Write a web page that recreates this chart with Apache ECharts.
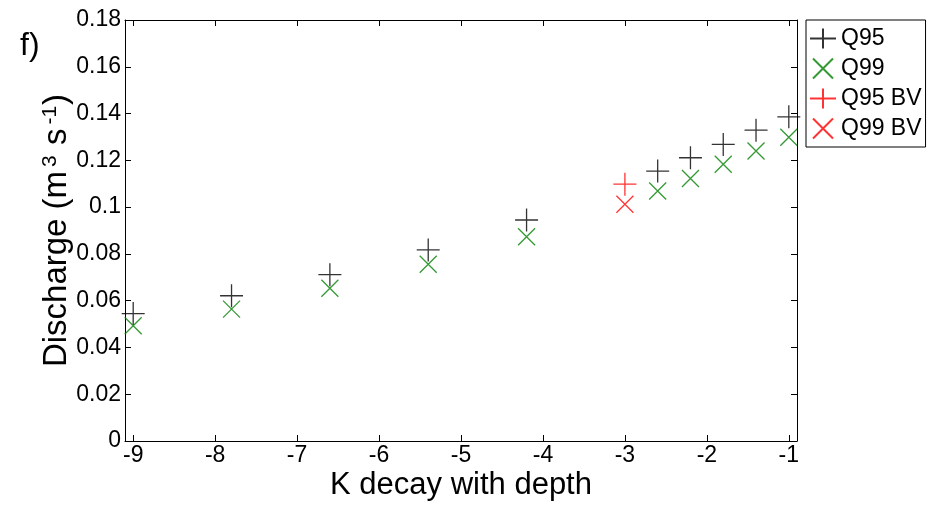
<!DOCTYPE html>
<html>
<head>
<meta charset="utf-8">
<script src="https://cdn.jsdelivr.net/npm/echarts@6/dist/echarts.min.js"></script>
<style>
html,body{margin:0;padding:0;background:#fff;}
#chart{width:937px;height:506px;}
</style>
</head>
<body>
<div id="chart"></div>
<script>
// ---- data ----
const kValues = [-9, -7.8, -6.6, -5.4, -4.2, -2.6, -2.2, -1.8, -1.4, -1];
const q95 = [0.0545, 0.0621, 0.0711, 0.0817, 0.0945, 0.1154, 0.1211, 0.1268, 0.1329, 0.1386];
const q99 = [0.0493, 0.0564, 0.0653, 0.0756, 0.0873, 0.1069, 0.1122, 0.1183, 0.1240, 0.1299];
const bvK = [-3];
const q95bv = [0.1098];
const q99bv = [0.1012];
const xTicks = [-9, -8, -7, -6, -5, -4, -3, -2, -1];
const seriesNames = ['Q95', 'Q99', 'Q95 BV', 'Q99 BV'];

const FONT = "'Liberation Sans', Arial, sans-serif";
const PLUS = 'path://M0,5L10,5M5,0L5,10';
const CROSS = 'path://M0,0L10,10M10,0L0,10';
const PLUS_LEG = 'path://M0,10L26,10M13,0L13,20';

function pairs(xs, ys) { return xs.map((x, i) => [x, ys[i]]); }

function mk(name, xs, ys, sym, size, color) {
  return {
    name: name, type: 'scatter', xAxisIndex: 0, yAxisIndex: 0,
    data: pairs(xs, ys),
    symbol: sym, symbolSize: size,
    itemStyle: { color: 'rgba(0,0,0,0)', borderColor: color, borderWidth: 1.3 },
    emphasis: { disabled: true },
    silent: true
  };
}

const axisCommonX = {
  type: 'value', min: -9.1, max: -0.9,
  splitLine: { show: false },
  axisLine: { show: true, onZero: false, lineStyle: { color: '#000', width: 1 } },
  axisTick: { show: true, inside: true, length: 6, customValues: xTicks, lineStyle: { color: '#000' } }
};
const axisCommonY = {
  type: 'value', min: 0, max: 0.18, interval: 0.02,
  splitLine: { show: false },
  axisLine: { show: true, onZero: false, lineStyle: { color: '#000', width: 1 } },
  axisTick: { show: true, inside: true, length: 6, lineStyle: { color: '#000' } }
};

const option = {
  animation: false,
  backgroundColor: '#fff',
  textStyle: { fontFamily: FONT },
  grid: { left: 125, right: 140, top: 20, bottom: 64, containLabel: false },
  graphic: [{
    type: 'text', left: 20, top: 30,
    style: { text: 'f)', fontSize: 32, fontFamily: FONT, fill: '#000' }
  }],
  legend: {
    data: [
      { name: 'Q95', icon: PLUS_LEG },
      { name: 'Q99', icon: CROSS },
      { name: 'Q95 BV', icon: PLUS_LEG },
      { name: 'Q99 BV', icon: CROSS }
    ],
    orient: 'vertical', left: 806, top: 20,
    padding: [7, 4, 7, 3],
    itemWidth: 26, itemHeight: 20, itemGap: 7,
    borderColor: '#000', borderWidth: 1, backgroundColor: '#fff',
    textStyle: { fontSize: 23, fontFamily: FONT, color: '#000' },
    selectedMode: false
  },
  xAxis: [
    Object.assign({}, axisCommonX, {
      position: 'bottom',
      name: 'K decay with depth', nameLocation: 'middle', nameGap: 29,
      nameMoveOverlap: false,
      nameTextStyle: { fontSize: 31, fontFamily: FONT, color: '#000' },
      axisLabel: { show: true, customValues: xTicks, margin: 3, fontSize: 23, fontFamily: FONT, color: '#000' }
    }),
    Object.assign({}, axisCommonX, {
      position: 'top', axisLabel: { show: false }
    })
  ],
  yAxis: [
    Object.assign({}, axisCommonY, {
      position: 'left',
      name: '{a|Discharge (m}{sup|3}{a| s}{sup|-1}{a|)}',
      nameLocation: 'middle', nameGap: 52, nameRotate: 90,
      nameMoveOverlap: false,
      nameTextStyle: {
        rich: {
          a: { fontSize: 33, lineHeight: 33, fontFamily: FONT, color: '#000', verticalAlign: 'bottom' },
          sup: { fontSize: 21, lineHeight: 21, fontFamily: FONT, color: '#000', verticalAlign: 'top', padding: [0, 1, 22, 4] }
        }
      },
      axisLabel: {
        show: true, margin: 4, fontSize: 23, fontFamily: FONT, color: '#000',
        formatter: v => String(+v.toFixed(2))
      }
    }),
    Object.assign({}, axisCommonY, {
      position: 'right', axisLabel: { show: false }
    })
  ],
  series: [
    mk('Q95', kValues, q95, PLUS, 23, '#000'),
    mk('Q99', kValues, q99, CROSS, 17, '#008000'),
    mk('Q95 BV', bvK, q95bv, PLUS, 23, '#ff0000'),
    mk('Q99 BV', bvK, q99bv, CROSS, 17, '#ff0000')
  ]
};

const chart = echarts.init(document.getElementById('chart'), null, { renderer: 'canvas' });
chart.setOption(option);
</script>
</body>
</html>
